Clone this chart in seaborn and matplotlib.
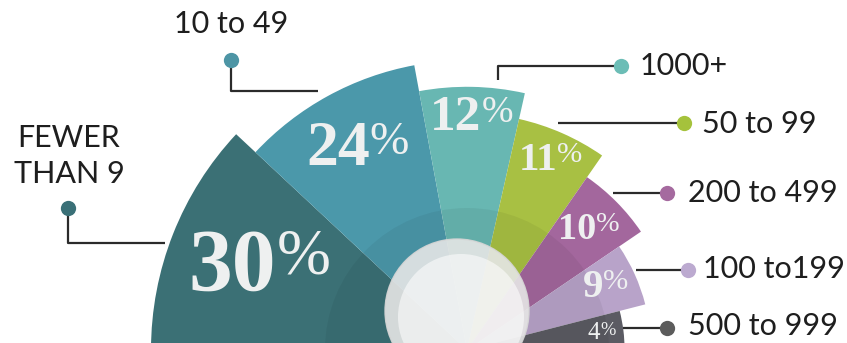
import numpy as np
import matplotlib
matplotlib.use("Agg")
import matplotlib.pyplot as plt
import seaborn as sns
from matplotlib.offsetbox import TextArea, HPacker, AnnotationBbox
from matplotlib.patches import Circle

# ---------------- data ----------------
categories = ["FEWER THAN 9", "10 to 49", "1000+", "50 to 99",
              "200 to 499", "100 to199", "500 to 999"]
shares = [30, 24, 12, 11, 10, 9, 4]
pct_labels = ["30", "24", "12", "11", "10", "9", "4"]

# ---------------- styles ----------------
wedge_colors = ["#3b7075", "#4b98aa", "#68b7b2", "#a8c043",
                "#a3679d", "#b8a3c9", "#5b5b63"]
dot_colors = ["#3a7077", "#4d95a5", "#6cbdb6", "#a5c23c",
              "#a56a9f", "#bcaad0", "#5c5c5c"]
pct_sizes = [63, 46, 37, 29.5, 27.5, 29.5, 18]
pct_weights = ["bold"] * 6 + ["normal"]
label_r = [223, 228, 232, 207, 171, 152, 136]

W, H, DPI = 847, 343, 100
CX, CY = 467, 350      # fan centre in pixels (from top-left)
RMAX = 330

sns.set_theme(style="white")
palette = sns.color_palette(wedge_colors)

fig = plt.figure(figsize=(W / DPI, H / DPI), dpi=DPI)
fig.patch.set_facecolor("white")

ax = fig.add_axes([(CX - RMAX) / W, (H - CY - RMAX) / H, 2 * RMAX / W, 2 * RMAX / H],
                  projection="polar")
ax.set_ylim(0, RMAX)
ax.axis("off")

vals = np.array(shares, float)
widths_deg = (vals + 9) / (vals + 9).sum() * 180
edges = 180 - np.concatenate([[0], np.cumsum(widths_deg)])
centers = (edges[:-1] + edges[1:]) / 2
rank = np.argsort(np.argsort(-vals))
radii = 316 - 26.4 * rank

ax.bar(np.deg2rad(centers), radii, width=np.deg2rad(widths_deg),
       color=palette, edgecolor="none", linewidth=0, align="center", zorder=1)
# subtle darker inner band
ax.bar(np.deg2rad(90), 142, width=np.pi, color="black", alpha=0.05,
       edgecolor="none", linewidth=0, zorder=2)

# percentage labels
for i, (num, c) in enumerate(zip(pct_labels, centers)):
    fs = pct_sizes[i]
    t1 = TextArea(num, textprops=dict(family="Liberation Serif", size=fs,
                                      weight=pct_weights[i], color="#eef0f0"))
    t2 = TextArea("%", textprops=dict(family="Liberation Serif", size=fs * 0.74,
                                      weight="normal", color="#eef0f0"))
    box = HPacker(children=[t1, t2], align="top", pad=0, sep=0)
    ab = AnnotationBbox(box, (np.deg2rad(c), label_r[i]), xycoords="data",
                        frameon=False, box_alignment=(0.5, 0.5), pad=0)
    ab.set_zorder(5)
    ax.add_artist(ab)

# ---------------- overlay (pixel coordinates) ----------------
ax2 = fig.add_axes([0, 0, 1, 1])
ax2.set_xlim(0, W)
ax2.set_ylim(H, 0)
ax2.axis("off")

# central white disc
ax2.add_patch(Circle((457, 311), 72, fc="#e6e6e6", ec="#d6d6d6", lw=1, alpha=0.9, zorder=3))
ax2.add_patch(Circle((461, 317), 63, fc="white", ec="none", alpha=0.55, zorder=4))

line_kw = dict(color="#2b2b2b", lw=1.6, solid_capstyle="butt", zorder=6)
leaders = [
    ([68, 68, 165], [208, 243, 243], (68, 208)),
    ([231, 231, 318], [60, 91, 91], (231, 60)),
    ([498, 498, 621], [80, 66, 66], (621, 66)),
    ([558, 684], [123, 123], (684, 123)),
    ([613, 667], [193, 193], (667, 193)),
    ([636, 688], [270, 270], (688, 270)),
    ([623, 667], [328, 328], (667, 328)),
]
for i, (xs, ys, dot) in enumerate(leaders):
    ax2.plot(xs, ys, **line_kw)
    ax2.plot([dot[0]], [dot[1]], "o", ms=11, color=dot_colors[i], mec="none", zorder=7)

txt_kw = dict(family="Lato", size=22, color="#1e1e1e", va="baseline", zorder=8)
ax2.text(69, 147, "FEWER", ha="center", **txt_kw)
ax2.text(69, 183, "THAN 9", ha="center", **txt_kw)
ax2.text(231, 33, categories[1], ha="center", **txt_kw)
ax2.text(640, 75, categories[2], ha="left", **txt_kw)
ax2.text(702, 133, categories[3], ha="left", **txt_kw)
ax2.text(688, 202, categories[4], ha="left", **txt_kw)
ax2.text(703, 278, categories[5], ha="left", **txt_kw)
ax2.text(688, 335, categories[6], ha="left", **txt_kw)

fig.savefig("out.png", dpi=DPI, facecolor="white")
